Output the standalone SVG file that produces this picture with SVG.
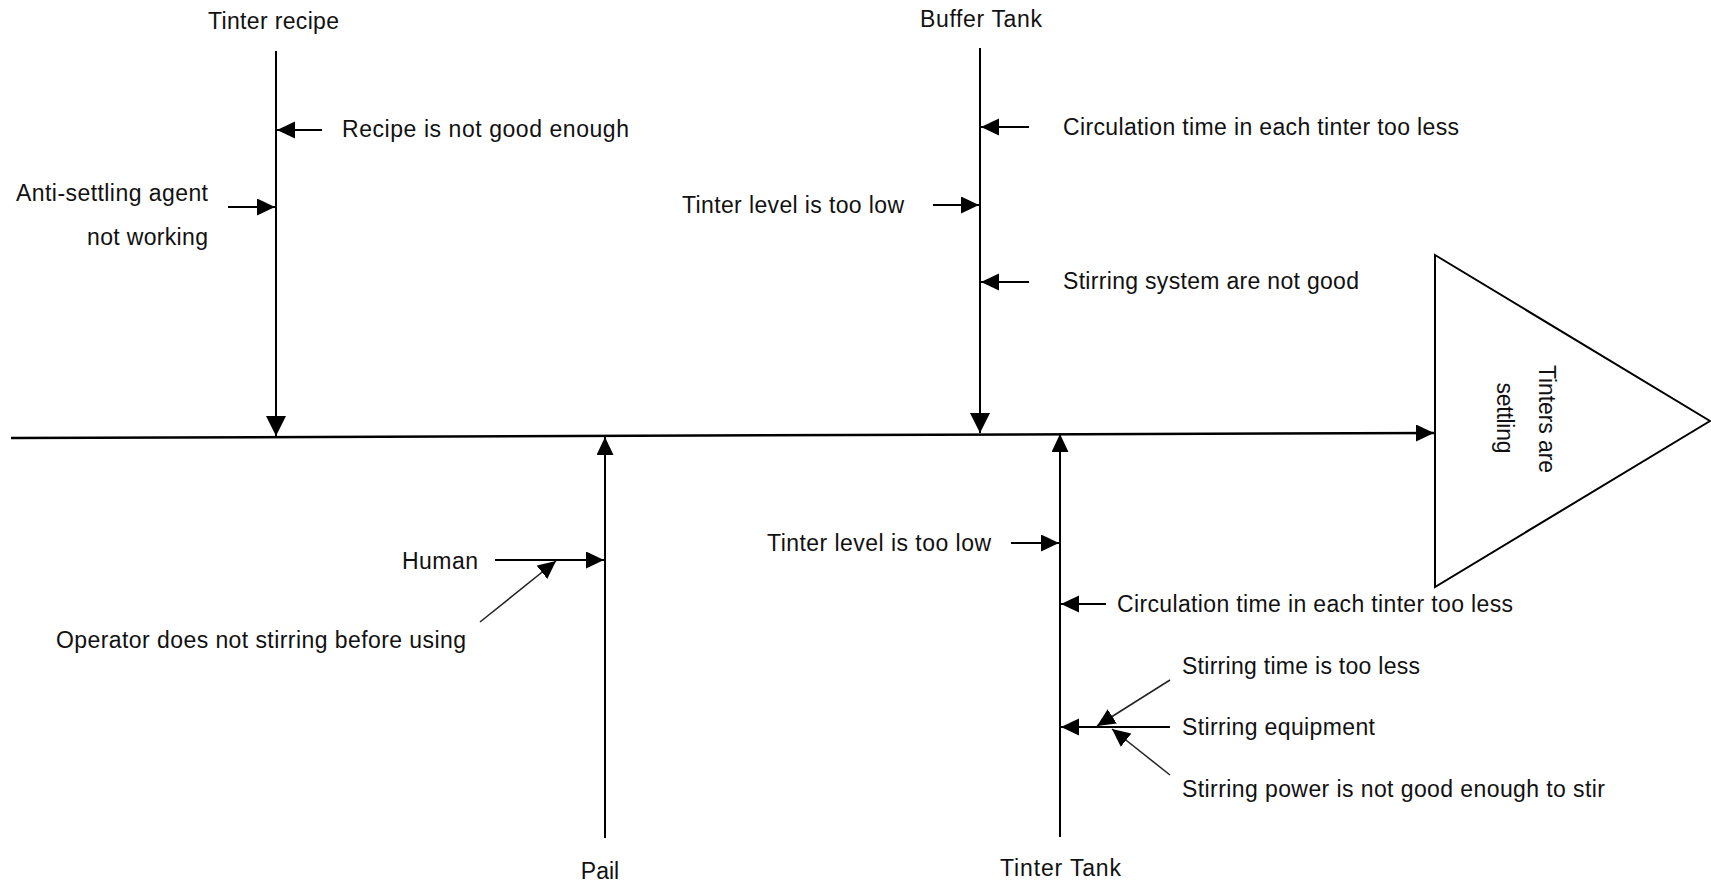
<svg xmlns="http://www.w3.org/2000/svg" width="1711" height="881" viewBox="0 0 1711 881">
  <style>
    .lbl { font-family: "Liberation Sans", Arial, sans-serif; font-size: 23px; fill: #111; }
    .bone { stroke: #000; stroke-width: 2; fill: none; }
    .spine { stroke: #000; stroke-width: 2.5; fill: none; }
    .cause { stroke: #000; stroke-width: 2; fill: none; }
    .diag { stroke: #222; stroke-width: 1.5; fill: none; }
    .head { stroke: #000; stroke-width: 2; fill: #fff; }
  </style>
  <defs>
    <marker id="ahBig" markerUnits="userSpaceOnUse" markerWidth="22" markerHeight="22" refX="20" refY="10" orient="auto">
      <path d="M0,0 L20,10 L0,20 z" fill="#000"/>
    </marker>
    <marker id="ah" markerUnits="userSpaceOnUse" markerWidth="20" markerHeight="18" refX="18" refY="8.5" orient="auto">
      <path d="M0,0 L18,8.5 L0,17 z" fill="#000"/>
    </marker>
  </defs>

  <rect width="1711" height="881" fill="#fff"/>

  <!-- head: the effect -->
  <g id="effect">
    <path class="head" d="M1435,255 L1710,421 L1435,587 Z"/>
    <text class="lbl" transform="translate(1539,419) rotate(90)" text-anchor="middle" textLength="108" lengthAdjust="spacing">Tinters are</text>
    <text class="lbl" transform="translate(1497,418) rotate(90)" text-anchor="middle" textLength="71" lengthAdjust="spacing">settling</text>
  </g>

  <!-- connectors: spine, bones and cause arrows -->
  <g id="connectors">
    <line class="spine" x1="11" y1="438" x2="1434" y2="433" marker-end="url(#ah)"/>

    <line class="bone" x1="276" y1="51" x2="276" y2="436" marker-end="url(#ahBig)"/>
    <line class="bone" x1="980" y1="48" x2="980" y2="433" marker-end="url(#ahBig)"/>
    <line class="bone" x1="605" y1="838" x2="605" y2="437" marker-end="url(#ah)"/>
    <line class="bone" x1="1060" y1="837" x2="1060" y2="434" marker-end="url(#ah)"/>

    <line class="cause" x1="322" y1="130" x2="277" y2="130" marker-end="url(#ah)"/>
    <line class="cause" x1="228" y1="207" x2="275" y2="207" marker-end="url(#ah)"/>

    <line class="cause" x1="1029" y1="127" x2="981" y2="127" marker-end="url(#ah)"/>
    <line class="cause" x1="933" y1="205" x2="979" y2="205" marker-end="url(#ah)"/>
    <line class="cause" x1="1029" y1="282" x2="981" y2="282" marker-end="url(#ah)"/>

    <line class="cause" x1="495" y1="560" x2="604" y2="560" marker-end="url(#ah)"/>
    <line class="diag" x1="480" y1="622" x2="556" y2="561" marker-end="url(#ah)"/>

    <line class="cause" x1="1011" y1="543" x2="1059" y2="543" marker-end="url(#ah)"/>
    <line class="cause" x1="1106" y1="604" x2="1061" y2="604" marker-end="url(#ah)"/>
    <line class="cause" x1="1170" y1="727" x2="1061" y2="727" marker-end="url(#ah)"/>
    <line class="diag" x1="1170" y1="680" x2="1097" y2="726" marker-end="url(#ah)"/>
    <line class="diag" x1="1170" y1="775" x2="1112" y2="729" marker-end="url(#ah)"/>
  </g>

  <!-- category: Tinter recipe -->
  <g id="tinter-recipe">
    <text class="lbl" x="208" y="29" textLength="131" lengthAdjust="spacing">Tinter recipe</text>
    <text class="lbl" x="342" y="137" textLength="287" lengthAdjust="spacing">Recipe is not good enough</text>
    <text class="lbl" x="16" y="201" textLength="192" lengthAdjust="spacing">Anti-settling agent</text>
    <text class="lbl" x="87" y="245" textLength="121" lengthAdjust="spacing">not working</text>
  </g>

  <!-- category: Buffer Tank -->
  <g id="buffer-tank">
    <text class="lbl" x="920" y="27" textLength="122" lengthAdjust="spacing">Buffer Tank</text>
    <text class="lbl" x="1063" y="135" textLength="396" lengthAdjust="spacing">Circulation time in each tinter too less</text>
    <text class="lbl" x="682" y="213" textLength="222" lengthAdjust="spacing">Tinter level is too low</text>
    <text class="lbl" x="1063" y="289" textLength="296" lengthAdjust="spacing">Stirring system are not good</text>
  </g>

  <!-- category: Pail -->
  <g id="pail">
    <text class="lbl" x="600" y="879" text-anchor="middle">Pail</text>
    <text class="lbl" x="402" y="569" textLength="76" lengthAdjust="spacing">Human</text>
    <text class="lbl" x="56" y="648" textLength="410" lengthAdjust="spacing">Operator does not stirring before using</text>
  </g>

  <!-- category: Tinter Tank -->
  <g id="tinter-tank">
    <text class="lbl" x="1000" y="876" textLength="121" lengthAdjust="spacing">Tinter Tank</text>
    <text class="lbl" x="767" y="551" textLength="224" lengthAdjust="spacing">Tinter level is too low</text>
    <text class="lbl" x="1117" y="612" textLength="396" lengthAdjust="spacing">Circulation time in each tinter too less</text>
    <text class="lbl" x="1182" y="674" textLength="238" lengthAdjust="spacing">Stirring time is too less</text>
    <text class="lbl" x="1182" y="735" textLength="193" lengthAdjust="spacing">Stirring equipment</text>
    <text class="lbl" x="1182" y="797" textLength="423" lengthAdjust="spacing">Stirring power is not good enough to stir</text>
  </g>
</svg>
